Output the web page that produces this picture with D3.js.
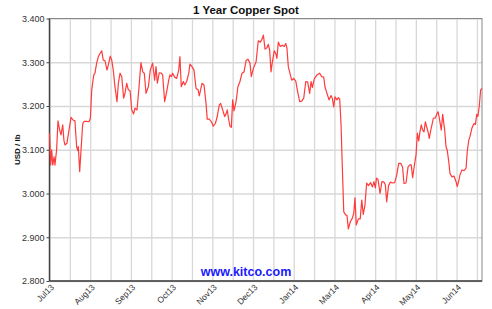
<!DOCTYPE html>
<html>
<head>
<meta charset="utf-8">
<script src="https://cdn.jsdelivr.net/npm/d3@7"></script>
<style>
  body { margin: 0; background: #fff; }
  text { font-family: "Liberation Sans", Arial, sans-serif; }
</style>
</head>
<body>
<div id="chart"></div>
<script>
// trading day index (0 = start of Jul13) and spot price in USD / lb
var days = [0, 0.7, 1.3, 1.9, 2.7, 3.2, 4.2, 5.0, 6.0, 6.8, 7.8, 8.5, 9.1, 10.3, 11.5, 12.7, 13.9, 15.0,
  16.0, 16.6, 17.0, 17.8, 18.6, 19.6, 20.5, 21.9, 23.3, 24.1, 24.9, 26.1, 26.8, 27.8, 28.8, 29.8,
  30.8, 31.7, 32.7, 33.9, 34.7, 35.8, 36.7, 37.6, 38.6, 39.8, 40.6, 41.6, 42.6, 43.7, 44.5, 45.5,
  46.5, 47.5, 48.5, 49.6, 50.4, 51.6, 52.8, 53.9, 55.0, 55.9, 56.9, 58.3, 59.4, 60.8,
  62.0, 62.8, 63.6, 64.7, 65.9, 66.7, 67.9, 69.1, 70.3, 71.0, 71.8, 72.6, 73.8, 75.0, 76.2, 76.9,
  77.7, 78.9, 79.7, 80.9, 82.1, 82.8, 84.0, 85.2, 86.4, 87.6, 88.3, 89.1, 89.9, 91.1, 92.3, 93.0,
  94.2, 95.4, 96.6, 97.8, 98.9, 100.1, 100.9, 102.1, 103.3, 104.1, 104.8, 105.7, 106.4, 107.2,
  108.0, 108.8, 110.0, 111.1, 112.3, 113.5, 114.7, 115.9, 117.0, 118.2, 119.0, 120.2, 121.8, 123.1,
  124.3, 125.1, 126.1, 127.1, 128.2, 129.0, 129.8, 130.6, 131.4, 132.5, 133.4, 134.1, 134.9, 136.1,
  137.3, 138.4, 139.3, 140.0, 140.8, 142.0, 142.8, 144.0, 145.2, 146.3, 147.5, 148.7, 149.9, 151.1,
  152.2, 153.4, 154.2, 155.0, 156.1, 157.7, 159.3, 160.5, 161.7, 162.4, 163.6, 164.8, 166.0, 166.7,
  167.6, 168.3, 169.5, 170.3, 171.1, 171.9, 172.6, 173.5, 174.6, 175.4, 176.2, 177.4, 178.5, 179.4,
  180.1, 180.9, 182.1, 183.2, 184.1, 185.0, 186.0, 187.0, 188.1, 189.3, 190.4, 191.3, 192.1, 192.8,
  193.7, 194.9, 196.0, 197.2, 198.0, 198.8, 199.9, 201.0, 202.2, 203.5, 204.7, 205.9, 207.1, 208.2,
  209.0, 210.2, 211.4, 212.6, 213.3, 214.1, 215.3, 216.1, 216.9, 217.7, 218.4, 219.2, 220.0, 220.8,
  221.6, 222.4, 223.2, 223.9, 224.8, 225.5, 226.3, 227.5, 228.3, 229.1, 229.8, 231.0, 231.8, 233.0,
  233.8, 234.5, 235.4, 236.1, 237.3, 238.5, 239.7, 240.4, 241.3, 242.0, 243.2, 244.4, 245.6, 246.3,
  247.2, 247.9, 249.1, 250.3, 251.1, 251.9, 252.6, 253.4, 254.2, 255.0];

var prices = [3.138, 3.065, 3.100, 3.065, 3.084, 3.065, 3.100, 3.166, 3.145, 3.134, 3.157, 3.122, 3.111, 3.115, 3.145, 3.174, 3.168, 3.166,
  3.107, 3.098, 3.107, 3.050, 3.100, 3.160, 3.165, 3.165, 3.164, 3.172, 3.237, 3.271, 3.275, 3.298, 3.313, 3.320,
  3.326, 3.305, 3.304, 3.282, 3.294, 3.314, 3.305, 3.282, 3.244, 3.210, 3.252, 3.275, 3.267, 3.218, 3.229, 3.252,
  3.237, 3.235, 3.191, 3.182, 3.195, 3.191, 3.244, 3.299, 3.278, 3.275, 3.229, 3.244, 3.282, 3.298,
  3.259, 3.290, 3.252, 3.276, 3.275, 3.271, 3.210, 3.233, 3.259, 3.271, 3.267, 3.275, 3.266, 3.263, 3.282, 3.313,
  3.244, 3.256, 3.248, 3.256, 3.275, 3.296, 3.290, 3.282, 3.240, 3.237, 3.223, 3.237, 3.252, 3.248, 3.206, 3.170,
  3.170, 3.164, 3.154, 3.160, 3.176, 3.202, 3.206, 3.191, 3.176, 3.182, 3.191, 3.168, 3.154, 3.151,
  3.214, 3.189, 3.210, 3.244, 3.256, 3.275, 3.278, 3.304, 3.307, 3.298, 3.267, 3.286, 3.301, 3.349,
  3.346, 3.351, 3.362, 3.330, 3.333, 3.341, 3.328, 3.278, 3.301, 3.326, 3.320, 3.309, 3.346, 3.336,
  3.339, 3.336, 3.343, 3.332, 3.290, 3.271, 3.259, 3.263, 3.257, 3.233, 3.210, 3.211, 3.218, 3.256,
  3.255, 3.229, 3.256, 3.242, 3.262, 3.271, 3.275, 3.267, 3.266, 3.244, 3.229, 3.214, 3.224, 3.218,
  3.198, 3.221, 3.214, 3.219, 3.216, 3.157, 3.065, 2.958, 2.951, 2.950, 2.919, 2.936, 2.943, 2.955,
  2.990, 2.928, 2.942, 2.942, 2.985, 2.952, 2.974, 3.024, 3.018, 3.025, 3.015, 3.027, 3.013, 3.035,
  3.032, 3.000, 3.027, 3.026, 3.020, 2.981, 3.018, 3.026, 3.024, 3.025, 3.042, 3.069, 3.069, 3.060,
  3.023, 3.024, 3.061, 3.066, 3.065, 3.036, 3.069, 3.088, 3.138, 3.120, 3.141, 3.157, 3.145, 3.141,
  3.164, 3.152, 3.141, 3.126, 3.145, 3.157, 3.172, 3.173, 3.181, 3.187, 3.173, 3.145, 3.181, 3.145,
  3.107, 3.099, 3.073, 3.046, 3.038, 3.040, 3.027, 3.016, 3.029, 3.042, 3.054, 3.052, 3.058, 3.096,
  3.122, 3.130, 3.150, 3.160, 3.158, 3.181, 3.176, 3.200, 3.237, 3.240];

var gridDays = d3.range(0, 253, 12);
var labelDays = [0, 24, 48, 72, 96, 120, 144, 168, 192, 216, 240];
var monthLabels = ["Jul13", "Aug13", "Sep13", "Oct13", "Nov13", "Dec13", "Jan14", "Mar14", "Apr14", "May14", "Jun14"];
var yTicks = [2.8, 2.9, 3.0, 3.1, 3.2, 3.3, 3.4];

var margin = { top: 18.5, right: 10, bottom: 28, left: 49.5 },
    width = 492 - margin.left - margin.right,
    height = 309 - margin.top - margin.bottom;

var svgRoot = d3.select("#chart")
    .append("svg")
    .attr("width", 492)
    .attr("height", 309);

var svg = svgRoot.append("g")
    .attr("transform", "translate(" + margin.left + "," + margin.top + ")");

var x = d3.scaleLinear().domain([0, 255]).range([0, width]);
var y = d3.scaleLinear().domain([2.8, 3.4]).range([height, 0]);

// grid
svg.append("g")
    .attr("transform", "translate(0," + height + ")")
    .call(d3.axisBottom(x).tickValues(gridDays).tickSize(-height).tickFormat(""))
    .call(function (g) { g.select(".domain").remove(); })
    .selectAll("line").attr("stroke", "#d8d8d8").attr("stroke-width", 1.3);

svg.append("g")
    .call(d3.axisLeft(y).tickValues(yTicks).tickSize(-width).tickFormat(""))
    .call(function (g) { g.select(".domain").remove(); })
    .selectAll("line").attr("stroke", "#d8d8d8").attr("stroke-width", 1.3);

// y labels with short ticks
var yAxis = svg.append("g")
    .call(d3.axisLeft(y).tickValues(yTicks).tickSize(3).tickPadding(2).tickFormat(d3.format(".3f")));
yAxis.select(".domain").remove();
yAxis.selectAll("line").attr("stroke", "#444");
yAxis.selectAll("text").attr("font-size", 9).attr("fill", "#333");

// x labels
var labelMap = {};
labelDays.forEach(function (d, i) { labelMap[d] = monthLabels[i]; });
var xAxis = svg.append("g")
    .attr("transform", "translate(0," + height + ")")
    .call(d3.axisBottom(x).tickValues(labelDays).tickSize(0).tickFormat(function (d) { return labelMap[d]; }));
xAxis.select(".domain").remove();
xAxis.selectAll("text")
    .attr("font-size", 8.5)
    .attr("fill", "#333")
    .attr("text-anchor", "end")
    .attr("dx", "-0.2em")
    .attr("dy", "0.6em")
    .attr("transform", "rotate(-45)");

// frame
svg.append("rect")
    .attr("width", width).attr("height", height)
    .attr("fill", "none").attr("stroke", "#888").attr("stroke-width", 1);
svg.append("line")
    .attr("x1", 0).attr("x2", 0).attr("y1", 0).attr("y2", height)
    .attr("stroke", "#444").attr("stroke-width", 1.5);
svg.append("line")
    .attr("x1", 0).attr("x2", width).attr("y1", height).attr("y2", height)
    .attr("stroke", "#444").attr("stroke-width", 1.5);

// price line
var data = days.map(function (d, i) { return { day: d, price: prices[i] }; });
svg.append("path")
    .datum(data)
    .attr("fill", "none")
    .attr("stroke", "#ff3b3b")
    .attr("stroke-width", 1.2)
    .attr("stroke-linejoin", "round")
    .attr("d", d3.line()
        .x(function (d) { return x(d.day); })
        .y(function (d) { return y(d.price); }));

// texts
svgRoot.append("text")
    .attr("x", 246).attr("y", 14)
    .attr("text-anchor", "middle")
    .attr("font-size", 11.5).attr("font-weight", "bold").attr("fill", "#111")
    .text("1 Year Copper Spot");

svgRoot.append("text")
    .attr("transform", "translate(20," + (margin.top + height / 2) + ") rotate(-90)")
    .attr("text-anchor", "middle")
    .attr("font-size", 8).attr("font-weight", "bold").attr("fill", "#111")
    .text("USD / lb");

svgRoot.append("text")
    .attr("x", 246).attr("y", 276)
    .attr("text-anchor", "middle")
    .attr("font-size", 12.5).attr("font-weight", "bold").attr("fill", "#1a1aff")
    .text("www.kitco.com");
</script>
</body>
</html>
